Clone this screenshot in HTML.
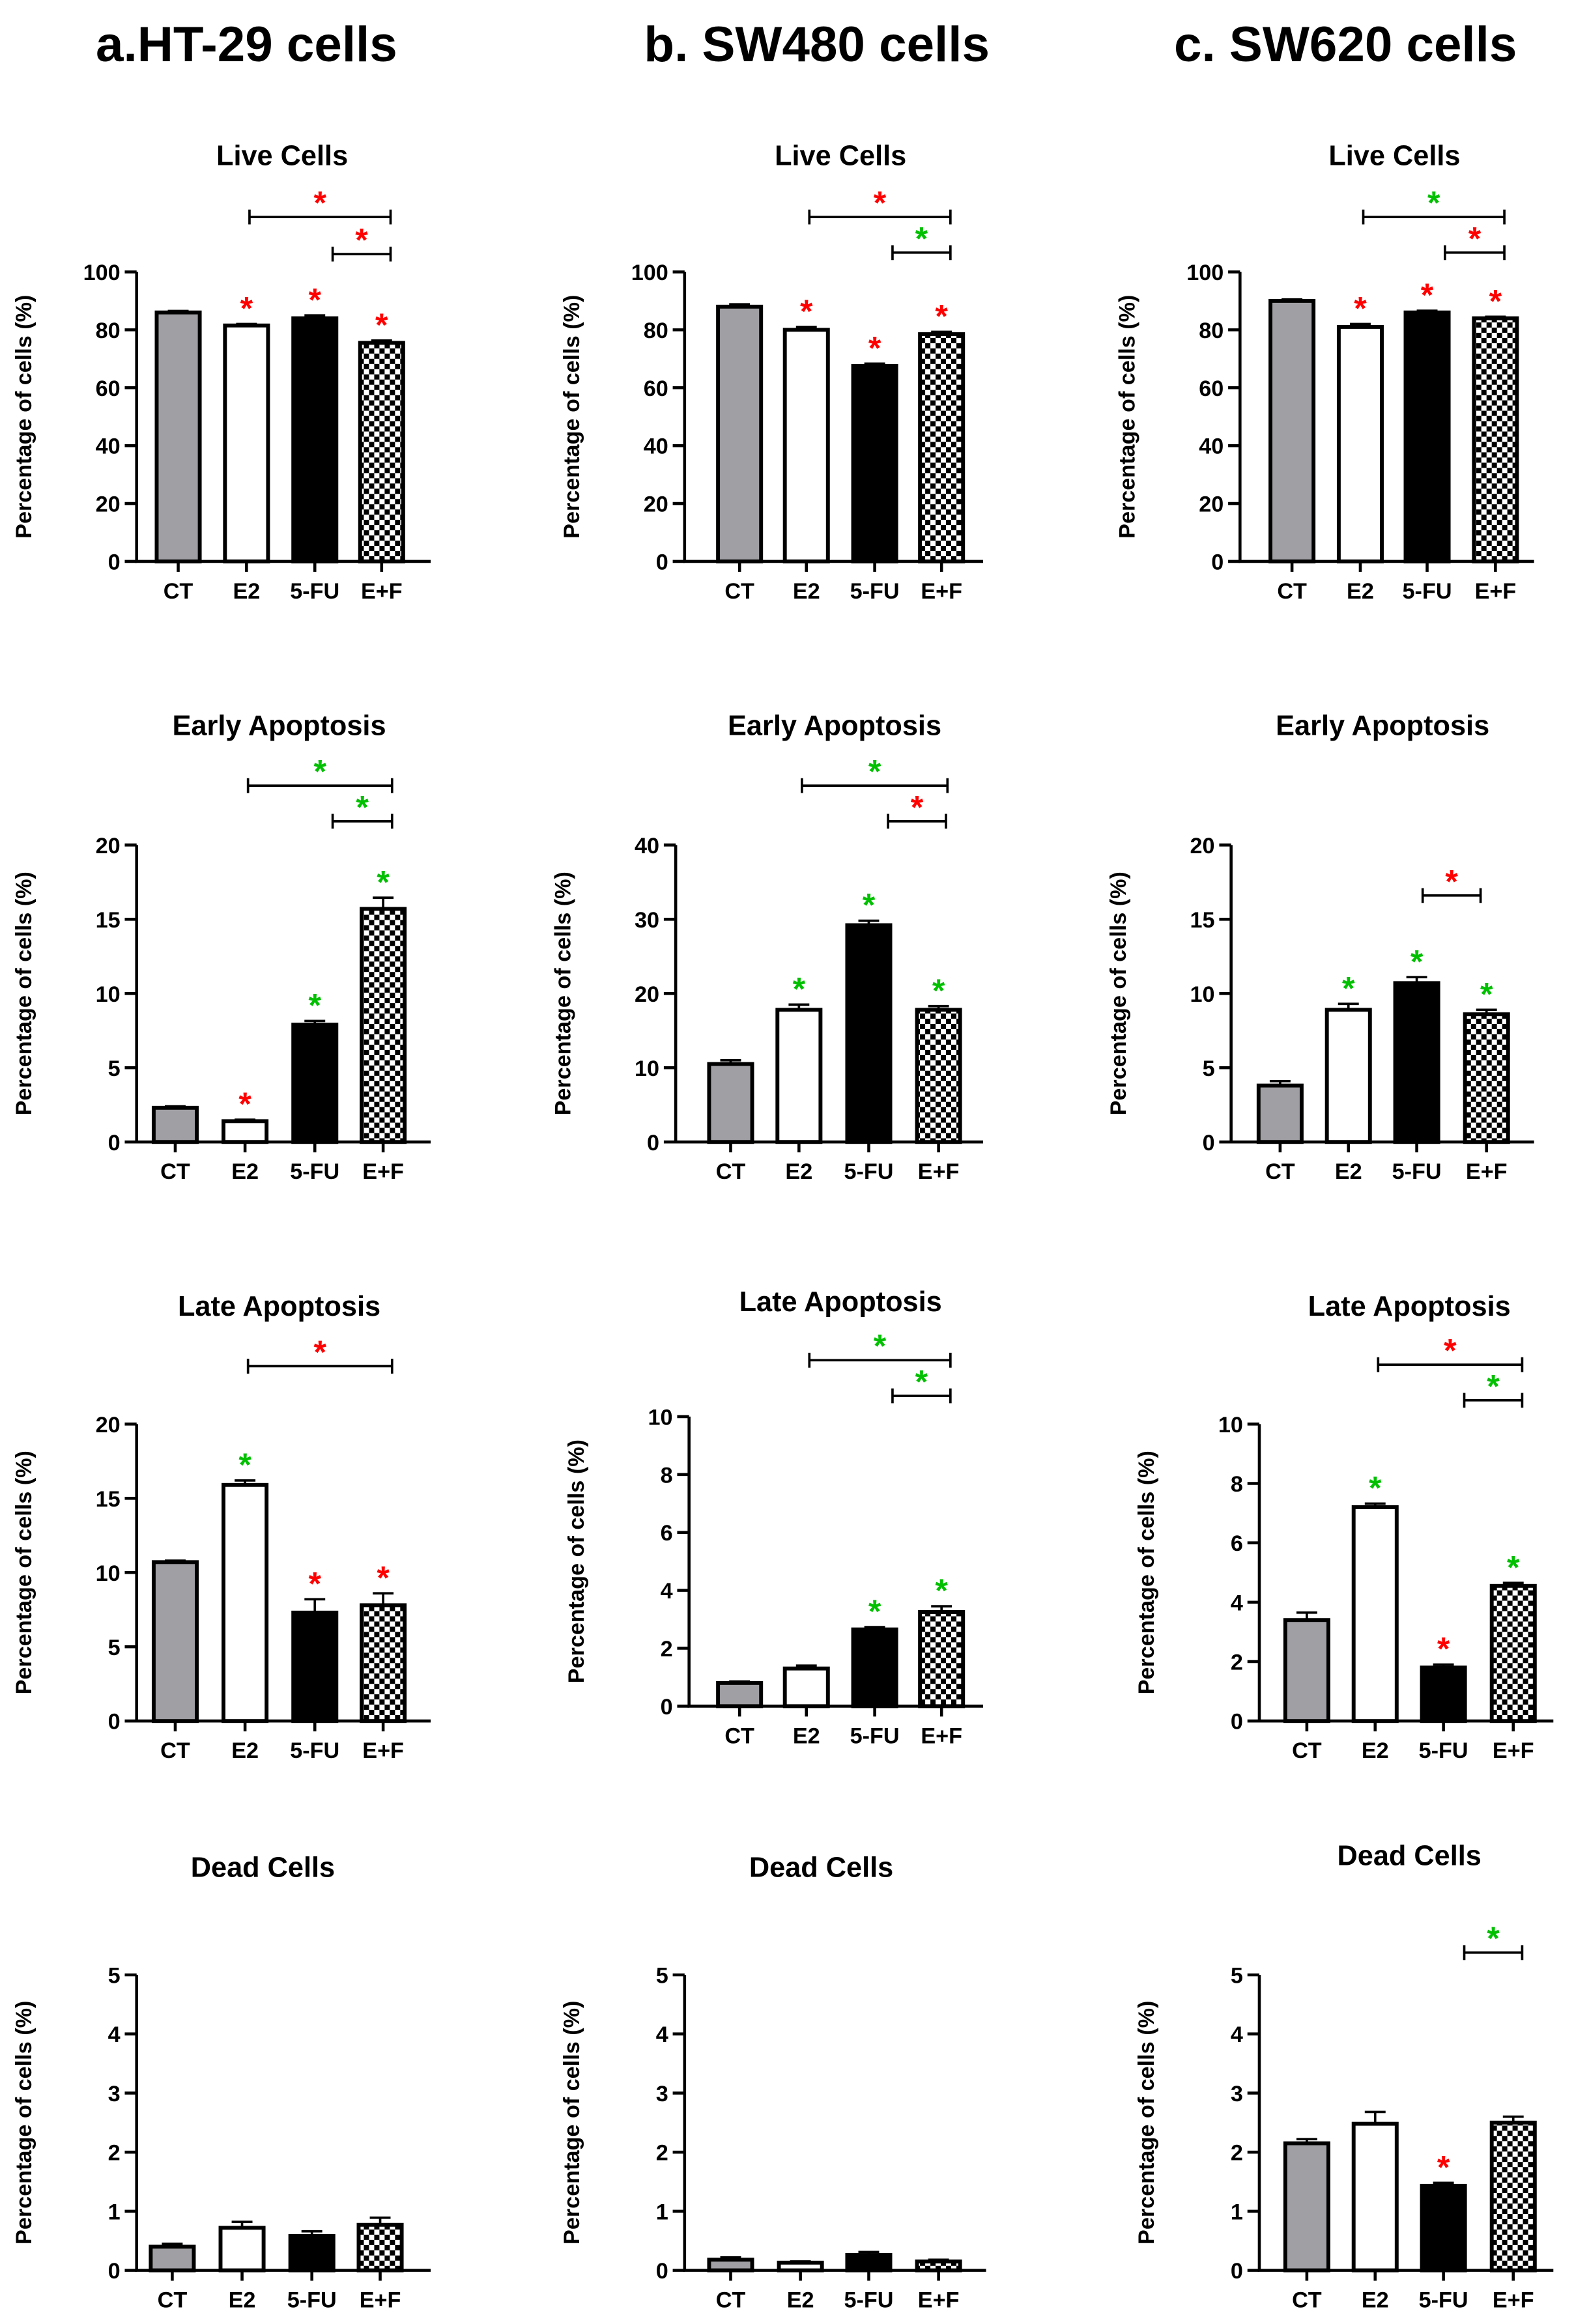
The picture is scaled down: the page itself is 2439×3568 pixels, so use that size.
<!DOCTYPE html>
<html><head><meta charset="utf-8">
<style>
html,body{margin:0;padding:0;background:#fff;}
svg{display:block;}
text{font-family:"Liberation Sans",Arial,sans-serif;font-weight:bold;fill:#000;}
</style></head>
<body>
<svg id="fig" width="2439" height="3568" viewBox="0 0 1070 1565" xmlns="http://www.w3.org/2000/svg">
<defs>
<pattern id="checker" patternUnits="userSpaceOnUse" width="7" height="7">
<rect width="7" height="7" fill="#fff"/>
<rect width="3.5" height="3.5" fill="#000"/>
<rect x="3.5" y="3.5" width="3.5" height="3.5" fill="#000"/>
</pattern>
</defs>
<text x="166" y="41" font-size="33.5" text-anchor="middle">a.HT-29 cells</text>
<text x="550" y="41" font-size="33.5" text-anchor="middle">b. SW480 cells</text>
<text x="906" y="41" font-size="33.5" text-anchor="middle">c. SW620 cells</text>
</svg>
<script>
const categories = ["CT","E2","5-FU","E+F"];
const liveA = [86,81.5,84,75.5], liveAErr = [0.5,0.5,1,0.8];
const liveB = [88,80,67.5,78.5], liveBErr = [0.8,1,0.8,0.8];
const liveC = [90,81,86,84], liveCErr = [0.5,1,0.6,0.5];
const earlyA = [2.3,1.4,7.9,15.7], earlyAErr = [0.1,0.1,0.25,0.75];
const earlyB = [10.5,17.8,29.2,17.8], earlyBErr = [0.5,0.7,0.6,0.5];
const earlyC = [3.8,8.9,10.7,8.6], earlyCErr = [0.3,0.4,0.4,0.3];
const lateA = [10.7,15.9,7.3,7.8], lateAErr = [0.1,0.3,0.9,0.8];
const lateB = [0.8,1.3,2.65,3.25], lateBErr = [0.05,0.1,0.08,0.2];
const lateC = [3.4,7.2,1.8,4.55], lateCErr = [0.25,0.12,0.1,0.1];
const deadA = [0.4,0.72,0.58,0.77], deadAErr = [0.05,0.1,0.08,0.12];
const deadB = [0.18,0.13,0.26,0.15], deadBErr = [0.04,0.02,0.05,0.03];
const deadC = [2.15,2.48,1.43,2.5], deadCErr = [0.07,0.2,0.05,0.1];
const liveAStars=[null,"r","r","r"], liveBStars=[null,"r","r","r"], liveCStars=[null,"r","r","r"];
const earlyAStars=[null,"r","g","g"], earlyBStars=[null,"g","g","g"], earlyCStars=[null,"g","g","g"];
const lateAStars=[null,"g","r","r"], lateBStars=[null,null,"g","g"], lateCStars=[null,"g","r","g"];
const deadAStars=[null,null,null,null], deadBStars=[null,null,null,null], deadCStars=[null,null,"r",null];
const liveABr=[[1,3,"r"],[2,3,"r"]], liveBBr=[[1,3,"r"],[2,3,"g"]], liveCBr=[[1,3,"g"],[2,3,"r"]];
const earlyABr=[[1,3,"g"],[2,3,"g"]], earlyBBr=[[1,3,"g"],[2,3,"r"]], earlyCBr=[[2,3,"r"]];
const lateABr=[[1,3,"r"]], lateBBr=[[1,3,"g"],[2,3,"g"]], lateCBr=[[1,3,"r"],[2,3,"g"]];
const deadABr=[], deadBBr=[], deadCBr=[[2,3,"g"]];
const liveTicks=[0,20,40,60,80,100], early20=[0,5,10,15,20], early40=[0,10,20,30,40];
const late20=[0,5,10,15,20], late10=[0,2,4,6,8,10], deadTicks=[0,1,2,3,4,5];

const NS="http://www.w3.org/2000/svg";
const svg=document.getElementById('fig');
const COL={r:"#ff0000",g:"#00c000"};
const FILLS=["#a0a0a4","#fff","#000","url(#checker)"];
function mk(tag,attrs,parent){const e=document.createElementNS(NS,tag);for(const k in attrs)e.setAttribute(k,attrs[k]);(parent||svg).appendChild(e);return e;}

const panels=[
 {id:"ht29-live",title:"Live Cells",tx:190,ty:111,ax:92,ae:290,y0:378,yTop:183,ticks:liveTicks,cx:[120,166,212,257],v:liveA,e:liveAErr,s:liveAStars,br:liveABr,brY:[146,171],so:12,eo:6},
 {id:"sw480-live",title:"Live Cells",tx:566,ty:111,ax:461,ae:662,y0:378,yTop:183,ticks:liveTicks,cx:[498,543,589,634],v:liveB,e:liveBErr,s:liveBStars,br:liveBBr,brY:[146,170],so:12,eo:6},
 {id:"sw620-live",title:"Live Cells",tx:939,ty:111,ax:835,ae:1033,y0:378,yTop:183,ticks:liveTicks,cx:[870,916,961,1007],v:liveC,e:liveCErr,s:liveCStars,br:liveCBr,brY:[146,170],so:12,eo:6},
 {id:"ht29-early",title:"Early Apoptosis",tx:188,ty:495,ax:92,ae:290,y0:769,yTop:569,ticks:early20,cx:[118,165,212,258],v:earlyA,e:earlyAErr,s:earlyAStars,br:earlyABr,brY:[529,553],so:12,eo:6},
 {id:"sw480-early",title:"Early Apoptosis",tx:562,ty:495,ax:455,ae:662,y0:769,yTop:569,ticks:early40,cx:[492,538,585,632],v:earlyB,e:earlyBErr,s:earlyBStars,br:earlyBBr,brY:[529,553],so:13,eo:5},
 {id:"sw620-early",title:"Early Apoptosis",tx:931,ty:495,ax:829,ae:1033,y0:769,yTop:569,ticks:early20,cx:[862,908,954,1001],v:earlyC,e:earlyCErr,s:earlyCStars,br:earlyCBr,brY:[603],so:4,eo:-4},
 {id:"ht29-late",title:"Late Apoptosis",tx:188,ty:886,ax:92,ae:290,y0:1159,yTop:959,ticks:late20,cx:[118,165,212,258],v:lateA,e:lateAErr,s:lateAStars,br:lateABr,brY:[920],so:12,eo:6},
 {id:"sw480-late",title:"Late Apoptosis",tx:566,ty:883,ax:464,ae:662,y0:1149,yTop:954,ticks:late10,cx:[498,543,589,634],v:lateB,e:lateBErr,s:lateBStars,br:lateBBr,brY:[916,940],so:12,eo:6},
 {id:"sw620-late",title:"Late Apoptosis",tx:949,ty:886,ax:848,ae:1046,y0:1159,yTop:959,ticks:late10,cx:[880,926,972,1019],v:lateC,e:lateCErr,s:lateCStars,br:lateCBr,brY:[919,943],so:14,eo:6},
 {id:"ht29-dead",title:"Dead Cells",tx:177,ty:1264,ax:92,ae:290,y0:1529,yTop:1330,ticks:deadTicks,cx:[116,163,210,256],v:deadA,e:deadAErr,s:deadAStars,br:deadABr,brY:[],so:12,eo:6},
 {id:"sw480-dead",title:"Dead Cells",tx:553,ty:1264,ax:461,ae:664,y0:1529,yTop:1330,ticks:deadTicks,cx:[492,539,585,632],v:deadB,e:deadBErr,s:deadBStars,br:deadBBr,brY:[],so:12,eo:6},
 {id:"sw620-dead",title:"Dead Cells",tx:949,ty:1256,ax:848,ae:1046,y0:1529,yTop:1330,ticks:deadTicks,cx:[880,926,972,1019],v:deadC,e:deadCErr,s:deadCStars,br:deadCBr,brY:[1315],so:14,eo:6}
];

panels.forEach(p=>{
  const g=mk('g',{});
  
  
  const max=p.ticks[p.ticks.length-1];
  const y=v=>p.y0-(v/max)*(p.y0-p.yTop);
  const t=mk('text',{x:p.tx,y:p.ty,'font-size':19,'text-anchor':'middle'},g);
  t.textContent=p.title;
  
  
  const yt=mk('text',{x:0,y:0,'font-size':15,'text-anchor':'middle',transform:`translate(${p.ax-71},${(p.y0+p.yTop)/2}) rotate(-90)`},g);
  yt.textContent="Percentage of cells (%)";
  
  
  p.v.forEach((v,i)=>{
    const bw=29, top=y(v);
    const b=mk('rect',{x:p.cx[i]-bw/2,y:top,width:bw,height:p.y0-top,fill:FILLS[i],stroke:'#000','stroke-width':2.6},g);
    
    
    const et=y(v+p.e[i]);
    const ep=mk('path',{d:`M${p.cx[i]},${top} V${et} M${p.cx[i]-7},${et} H${p.cx[i]+7}`,stroke:'#000','stroke-width':1.6,fill:'none'},g);
    
    
    if(p.s[i]){
      const st=mk('text',{x:p.cx[i],y:et-3,'font-size':22,'text-anchor':'middle',style:'fill:'+COL[p.s[i]]},g);
      st.textContent="*";
      
      
    }
  });
  const axes=mk('path',{d:`M${p.ax},${p.yTop} V${p.y0} H${p.ae}`,stroke:'#000','stroke-width':2,fill:'none'},g);
  
  
  p.ticks.forEach(tv=>{
    const yy=y(tv);
    mk('line',{x1:p.ax-8,x2:p.ax,y1:yy,y2:yy,stroke:'#000','stroke-width':2},g);
    const tl=mk('text',{x:p.ax-11,y:yy+5.5,'font-size':15,'text-anchor':'end'},g);
    tl.textContent=tv;
    
    
  });
  categories.forEach((c,i)=>{
    mk('line',{x1:p.cx[i],x2:p.cx[i],y1:p.y0,y2:p.y0+7,stroke:'#000','stroke-width':2},g);
    const cl=mk('text',{x:p.cx[i],y:p.y0+25,'font-size':15,'text-anchor':'middle'},g);
    cl.textContent=c;
    
    
  });
  p.br.forEach((br,k)=>{
    const by=p.brY[k];
    const x1=p.cx[br[0]]+(br[0]===1?2:p.so);
    const x2=p.cx[br[1]]+(br[0]===1?6:p.eo);
    const bp=mk('path',{d:`M${x1},${by-5} V${by+5} M${x1},${by} H${x2} M${x2},${by-5} V${by+5}`,stroke:'#000','stroke-width':1.6,fill:'none'},g);
    
    
    const bs=mk('text',{x:(x1+x2)/2,y:by-2,'font-size':22,'text-anchor':'middle',style:'fill:'+COL[br[2]]},g);
    bs.textContent="*";
    
    
  });
});
</script>
</body></html>
